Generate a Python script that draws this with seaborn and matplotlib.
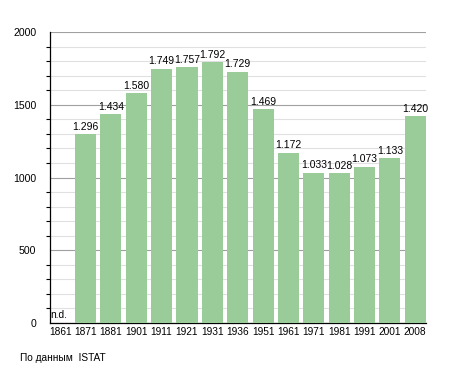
import matplotlib
matplotlib.use("Agg")
import matplotlib.pyplot as plt
from matplotlib.ticker import MultipleLocator
import pandas as pd
import seaborn as sns

years = ["1861", "1871", "1881", "1901", "1911", "1921", "1931", "1936",
         "1951", "1961", "1971", "1981", "1991", "2001", "2008"]
population = [0, 1296, 1434, 1580, 1749, 1757, 1792, 1729,
              1469, 1172, 1033, 1028, 1073, 1133, 1420]
labels = ["n.d.", "1.296", "1.434", "1.580", "1.749", "1.757", "1.792", "1.729",
          "1.469", "1.172", "1.033", "1.028", "1.073", "1.133", "1.420"]

df = pd.DataFrame({"year": years, "pop": population})

sns.set_style("white")
plt.rcParams["font.family"] = ["Liberation Sans", "DejaVu Sans"]
plt.rcParams["text.color"] = "black"
plt.rcParams["xtick.color"] = "black"
plt.rcParams["ytick.color"] = "black"

fig = plt.figure(figsize=(4.55, 3.73), dpi=100)
ax = fig.add_axes([0.110, 0.134, 0.826, 0.780])

sns.barplot(data=df, x="year", y="pop", color="#99cc99", saturation=1,
            width=0.83, linewidth=0, ax=ax, zorder=3)

ax.set_ylim(0, 2000)
ax.set_xlim(-0.4, 14.42)
ax.yaxis.set_major_locator(MultipleLocator(500))
ax.yaxis.set_minor_locator(MultipleLocator(100))
ax.grid(axis="y", which="major", color="#a0a0a0", linewidth=0.8, zorder=0)
ax.grid(axis="y", which="minor", color="#e0e0e0", linewidth=0.8, zorder=0)
ax.set_axisbelow(True)

for s in ["top", "right"]:
    ax.spines[s].set_visible(False)
ax.spines["left"].set_color("black")
ax.spines["bottom"].set_color("black")
ax.spines["left"].set_linewidth(0.9)
ax.spines["bottom"].set_linewidth(0.9)

ax.tick_params(axis="y", which="major", length=4, width=0.8, labelsize=7.6, pad=6)
ax.tick_params(axis="y", which="minor", length=3, width=0.8, left=True)
ax.tick_params(axis="x", length=0, labelsize=7.3, pad=3)
ax.set_xlabel("")
ax.set_ylabel("")

for i, (v, t) in enumerate(zip(population, labels)):
    if v == 0:
        ax.text(i - 0.38, 20, t, ha="left", va="bottom", fontsize=7.3)
    else:
        ax.text(i, v + 18, t, ha="center", va="bottom", fontsize=7.5)

fig.text(20 / 455, 1 - 358 / 373, "По данным  ISTAT", ha="left", va="center", fontsize=7.3)

fig.savefig("out.png", dpi=100)
